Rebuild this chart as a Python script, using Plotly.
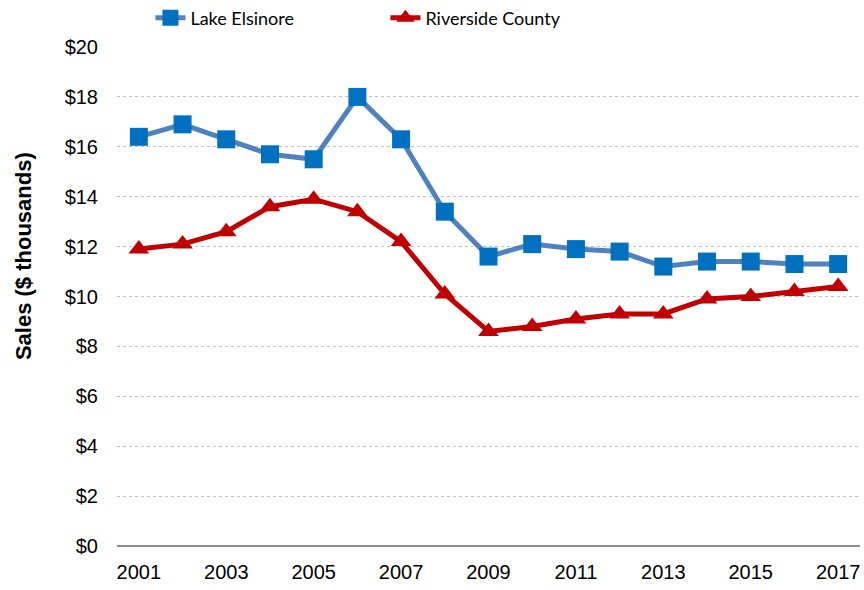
import plotly.graph_objects as go

years = list(range(2001, 2018))
lake_elsinore = [16.4, 16.9, 16.3, 15.7, 15.5, 18.0, 16.3, 13.4, 11.6, 12.1, 11.9, 11.8, 11.2, 11.4, 11.4, 11.3, 11.3]
riverside_county = [11.9, 12.1, 12.6, 13.6, 13.9, 13.4, 12.2, 10.1, 8.6, 8.8, 9.1, 9.3, 9.3, 9.9, 10.0, 10.2, 10.4]
y_ticks = list(range(0, 21, 2))
y_tick_text = [f"${v}" for v in y_ticks]
x_ticks = list(range(2001, 2018, 2))

fig = go.Figure()
fig.add_trace(go.Scatter(
    x=years, y=lake_elsinore, name="Lake Elsinore", mode="lines+markers",
    line=dict(color="#4F81BD", width=5),
    marker=dict(symbol="square", size=18, color="#0070C0"),
))
fig.add_trace(go.Scatter(
    x=years, y=riverside_county, name="Riverside County", mode="lines+markers",
    line=dict(color="#C00000", width=5),
    marker=dict(symbol="triangle-up", size=18, color="#C00000"),
))

fig.update_layout(
    width=864, height=590,
    margin=dict(l=117, r=4, t=47, b=44, autoexpand=False),
    paper_bgcolor="white", plot_bgcolor="white",
    font=dict(family="Liberation Sans Narrow, Arial Narrow, sans-serif", color="#000000"),
    legend=dict(
        orientation="h", x=0.045, y=1.058, xanchor="left", yanchor="middle",
        font=dict(family="Lato, Calibri, sans-serif", size=18),
        entrywidth=190, entrywidthmode="pixels",
        itemsizing="trace", bgcolor="rgba(0,0,0,0)",
    ),
    xaxis=dict(
        range=[2000.5, 2017.5], tickvals=x_ticks, ticktext=[str(v) for v in x_ticks],
        showgrid=False, zeroline=False, showline=False, ticks="",
        tickfont=dict(size=20), ticklabelstandoff=12,
    ),
    yaxis=dict(
        range=[0, 20], tickvals=y_ticks, ticktext=y_tick_text,
        showgrid=True, gridcolor="#BFBFBF", griddash="dot", gridwidth=1,
        zeroline=True, zerolinecolor="#8C8C8C", zerolinewidth=2,
        showline=False, ticks="", tickfont=dict(size=20), ticklabelstandoff=18,
    ),
    annotations=[dict(
        text="<b>Sales ($ thousands)</b>", textangle=-90,
        xref="paper", yref="paper", x=-0.1265, y=0.581,
        xanchor="center", yanchor="middle", showarrow=False,
        font=dict(family="Liberation Sans, Arial, sans-serif", size=22),
    )],
)

fig.write_html("out.html")
